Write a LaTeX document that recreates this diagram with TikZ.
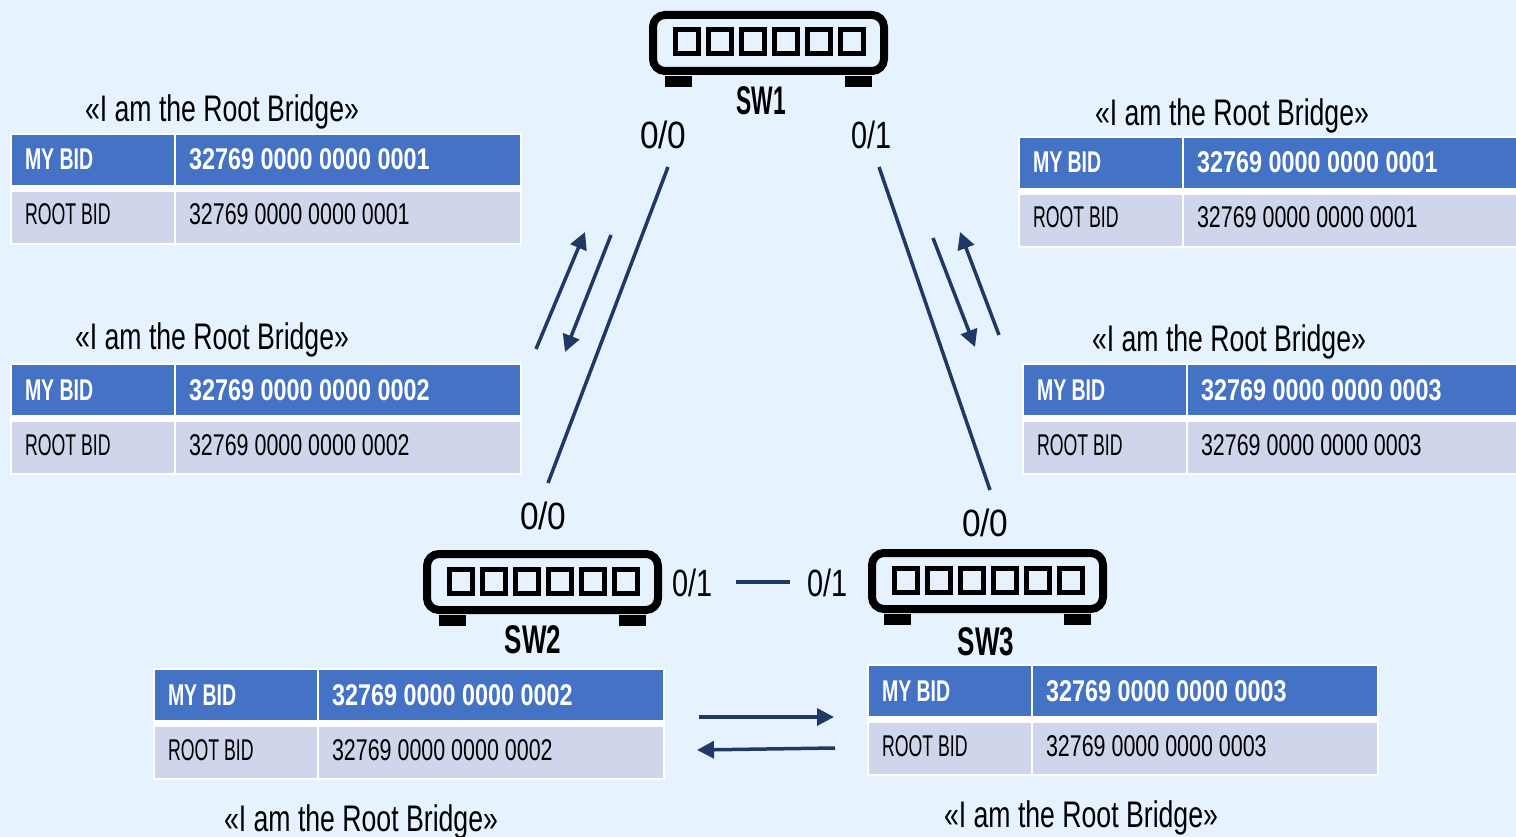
\documentclass[tikz,border=0pt]{standalone}
\usepackage{fontspec}
\usetikzlibrary{arrows.meta}
\setmainfont{Liberation Sans}
\newfontfamily\numreg[FakeStretch=0.715]{Liberation Sans}
\newfontfamily\wordreg[FakeStretch=0.59]{Liberation Sans}
\newfontfamily\numbold[FakeStretch=0.78]{Liberation Sans Bold}
\newfontfamily\wordbold[FakeStretch=0.65]{Liberation Sans Bold}
\newfontfamily\saysfont[FakeStretch=0.72]{Liberation Sans}
\newfontfamily\portfont[FakeStretch=0.88]{Liberation Sans}
\newfontfamily\portonefont[FakeStretch=0.76]{Liberation Sans}
\newfontfamily\swfont[FakeStretch=0.57]{Liberation Sans Bold}
\newfontfamily\swwidefont[FakeStretch=0.65]{Liberation Sans Bold}
\definecolor{bgc}{HTML}{E6F3FF}
\definecolor{blc}{HTML}{4472C4}
\definecolor{grc}{HTML}{CFD5EA}
\definecolor{lnc}{HTML}{203864}
\tikzset{
  x=1pt,y=-1pt,
  txt/.style={inner sep=0pt,outer sep=0pt,anchor=base west},
  backing/.style={fill=white,draw=none,inner sep=0pt,outer sep=0pt,anchor=north west},
  headcell/.style={fill=blc,draw=none,inner sep=0pt,outer sep=0pt,anchor=north west,minimum height=50pt},
  bodycell/.style={fill=grc,draw=none,inner sep=0pt,outer sep=0pt,anchor=north west,minimum height=51pt},
  hword/.style={txt,text=white,font=\fontsize{30}{30}\wordbold},
  hnum/.style={txt,text=white,font=\fontsize{30}{30}\numbold},
  bword/.style={txt,text=black,font=\fontsize{30}{30}\wordreg},
  bnum/.style={txt,text=black,font=\fontsize{30}{30}\numreg},
  says/.style={txt,text=black,font=\fontsize{37}{37}\saysfont},
  port/.style={txt,text=black,font=\fontsize{38}{38}\portfont},
  portone/.style={txt,text=black,font=\fontsize{38}{38}\portonefont},
  swlabel/.style={inner sep=0pt,outer sep=0pt,anchor=base,text=black,font=\fontsize{40}{40}\swfont},
  swwide/.style={swlabel,font=\fontsize{40}{40}\swwidefont},
  swbody/.style={draw=black,line width=8pt,rounded corners=12pt,fill=none,minimum width=231pt,minimum height=56pt,inner sep=0pt,outer sep=0pt},
  swport/.style={draw=black,line width=5pt,fill=none,minimum width=23pt,minimum height=24pt,inner sep=0pt,outer sep=0pt},
  swfoot/.style={fill=black,draw=none,minimum width=27pt,minimum height=11pt,inner sep=0pt,outer sep=0pt},
  link/.style={draw=lnc,line width=3.5pt},
  flow/.style={draw=lnc,line width=3.5pt,-{Triangle[length=17pt,width=17pt]}}
}
% name, x, y, width of second column, number
\newcommand\bidtable[5]{%
  \node[backing,minimum width={#4+168pt},minimum height=112pt] (#1back) at (#2,#3) {};
  \node[headcell,minimum width=161.5pt] (#1a) at ({#2+2},{#3+2}) {};
  \node[headcell,minimum width=#4] (#1b) at ({#2+166},{#3+2}) {};
  \node[bodycell,minimum width=161.5pt] (#1c) at ({#2+2},{#3+59}) {};
  \node[bodycell,minimum width=#4] (#1d) at ({#2+166},{#3+59}) {};
  \node[hword] (#1at) at ({#2+15},{#3+37}) {MY BID};
  \node[hnum]  (#1bt) at ({#2+179},{#3+37}) {#5};
  \node[bword] (#1ct) at ({#2+15},{#3+92}) {ROOT BID};
  \node[bnum]  (#1dt) at ({#2+179},{#3+92}) {#5};
}
% name, x of left edge, y of top edge
\newcommand\switchicon[3]{%
  \node[swbody] (#1) at ({#2+119.5},{#3+31}) {};
  \node[swport] (#1p1) at ({#2+38},{#3+30}) {};
  \node[swport] (#1p2) at ({#2+71},{#3+30}) {};
  \node[swport] (#1p3) at ({#2+104},{#3+30}) {};
  \node[swport] (#1p4) at ({#2+137},{#3+30}) {};
  \node[swport] (#1p5) at ({#2+170},{#3+30}) {};
  \node[swport] (#1p6) at ({#2+203},{#3+30}) {};
  \node[swfoot] (#1f1) at ({#2+29.5},{#3+69.5}) {};
  \node[swfoot] (#1f2) at ({#2+209.5},{#3+69.5}) {};
}
\begin{document}
\begin{tikzpicture}
\useasboundingbox[fill=bgc] (0,0) rectangle (1516,837);

\switchicon{swa}{649}{12}
\switchicon{swb}{423}{551}
\switchicon{swc}{868}{550}
\node[swlabel] (swal) at (761,115) {SW1};
\node[swwide] (swbl) at (533,653) {SW2};
\node[swwide] (swcl) at (986,655) {SW3};

\node[port] (pa0) at (640,149) {0/0};
\node[portone] (pa1) at (851,149) {0/1};
\node[port] (pb0) at (520,529) {0/0};
\node[port] (pc0) at (962,536) {0/0};
\node[portone] (pb1) at (672,596) {0/1};
\node[portone] (pc1) at (807,596) {0/1};

\bidtable{ta}{10}{133}{344pt}{32769 0000 0000 0001}
\bidtable{tb}{10}{363}{344pt}{32769 0000 0000 0002}
\bidtable{tc}{1018}{136}{332pt}{32769 0000 0000 0001}
\bidtable{td}{1022}{363}{328pt}{32769 0000 0000 0003}
\bidtable{te}{153}{668}{344pt}{32769 0000 0000 0002}
\bidtable{tf}{867}{664}{344pt}{32769 0000 0000 0003}

\node[says] (sa) at (85,122) {«I am the Root Bridge»};
\node[says] (sb) at (75,349) {«I am the Root Bridge»};
\node[says] (sc) at (1095,126) {«I am the Root Bridge»};
\node[says] (sd) at (1092,351) {«I am the Root Bridge»};
\node[says] (se) at (224,831) {«I am the Root Bridge»};
\node[says] (sf) at (944,827) {«I am the Root Bridge»};

\coordinate (l1a) at (668,167);
\coordinate (l1b) at (548,483);
\coordinate (l2a) at (879,167);
\coordinate (l2b) at (990,490);
\coordinate (l3a) at (736,582);
\coordinate (l3b) at (790,582);
\draw[link] (l1a) -- (l1b);
\draw[link] (l2a) -- (l2b);
\draw[link] (l3a) -- (l3b);

\coordinate (f1a) at (536,349);
\coordinate (f1b) at (585,232);
\coordinate (f2a) at (611,235);
\coordinate (f2b) at (565,352);
\coordinate (f3a) at (999,335);
\coordinate (f3b) at (960,232);
\coordinate (f4a) at (933,238);
\coordinate (f4b) at (975,347);
\coordinate (f5a) at (699,717);
\coordinate (f5b) at (834,717);
\coordinate (f6a) at (835,748);
\coordinate (f6b) at (697,750);
\draw[flow] (f1a) -- (f1b);
\draw[flow] (f2a) -- (f2b);
\draw[flow] (f3a) -- (f3b);
\draw[flow] (f4a) -- (f4b);
\draw[flow] (f5a) -- (f5b);
\draw[flow] (f6a) -- (f6b);
\end{tikzpicture}
\end{document}
